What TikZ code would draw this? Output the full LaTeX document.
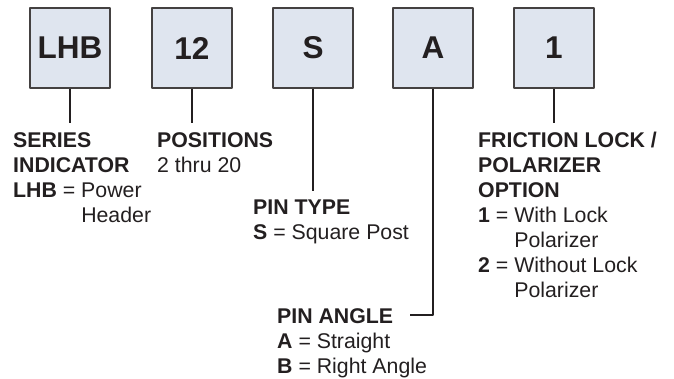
\documentclass[tikz,border=0pt]{standalone}
\usepackage{fontspec}
\setmainfont{Liberation Sans}
\definecolor{boxfill}{HTML}{DFE5EF}
\definecolor{ink}{HTML}{231F20}
\begin{document}
\begin{tikzpicture}[x=1pt,y=-1pt, line join=round, color=ink,
	box/.style={draw=ink!85, line width=1.4pt, fill=boxfill, minimum size=80pt, inner sep=0pt, font=\fontsize{31.5}{31.5}\selectfont\bfseries},
	lbl/.style={anchor=north west, inner sep=0pt, align=left, font=\fontsize{21.3}{25}\selectfont},
	lead/.style={line width=1.5pt, shorten >=9pt}]
	\useasboundingbox (0,0) rectangle (674,378);
	\foreach \x/\n/\t in {70/lhb/LHB,192/pos/12,313/pin/S,433/ang/A,554/opt/1}{
		\node[box] (\n) at (\x,48) {\t};}
	\node[lbl] (nser) at (13,132) {\textbf{SERIES}\\\textbf{INDICATOR}\\\textbf{LHB} = Power\\\phantom{\textbf{LHB} = }Header};
	\node[lbl] (npos) at (157,132) {\textbf{POSITIONS}\\2 thru 20};
	\node[lbl] (npin) at (253,200) {\textbf{PIN TYPE}\\\textbf{S} = Square Post};
	\node[lbl] (nang) at (277,308) {\textbf{PIN ANGLE}\\\textbf{A} = Straight\\\textbf{B} = Right Angle};
	\node[lbl] (nopt) at (478,132) {\textbf{FRICTION LOCK /}\\\textbf{POLARIZER}\\\textbf{OPTION}\\\textbf{1} = With Lock\\\phantom{\textbf{1} = }Polarizer\\\textbf{2} = Without Lock\\\phantom{\textbf{2} = }Polarizer};
	\coordinate (angend) at (410,315);
	\draw[lead] (lhb.south) -- (lhb.south |- nser.north);
	\draw[lead] (pos.south) -- (pos.south |- npos.north);
	\draw[lead] (pin.south) -- (pin.south |- npin.north);
	\draw[lead] (opt.south) -- (opt.south |- nopt.north);
	\draw[line width=1.5pt] (ang.south) |- (angend);
\end{tikzpicture}
\end{document}
